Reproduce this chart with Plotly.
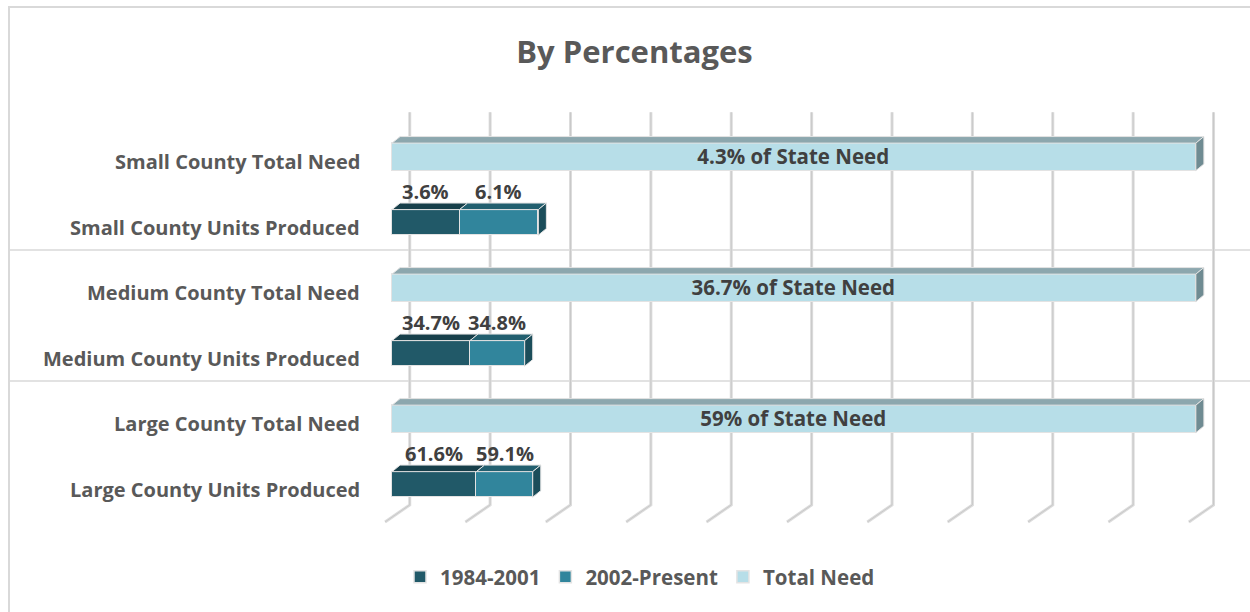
import plotly.graph_objects as go

# ---- data -------------------------------------------------------------
groups = ["Small County", "Medium County", "Large County"]
units_1984_2001 = [8.4, 9.7, 10.5]      # bar length, units produced 1984-2001
units_2002_now = [9.8, 6.8, 7.0]        # bar length, units produced 2002-present
total_need = [100, 100, 100]            # bar length, total need
labels_1984_2001 = ["3.6%", "34.7%", "61.6%"]
labels_2002_now = ["6.1%", "34.8%", "59.1%"]
labels_need = ["4.3% of State Need", "36.7% of State Need", "59% of State Need"]
grid_ticks = [0, 10, 20, 30, 40, 50, 60, 70, 80, 90, 100]

# ---- colours / fonts --------------------------------------------------
C_EARLY, C_EARLY_TOP = "#215968", "#173F4A"
C_LATE, C_LATE_TOP, C_LATE_SIDE = "#31859C", "#225F6F", "#1B4D5A"
C_NEED, C_NEED_TOP, C_NEED_SIDE = "#B7DEE8", "#8CA7AE", "#6F8B92"
EDGE = "#E3E3E3"
FONT = "Open Sans"
FS_LABEL = 20
FS_NEED = 20.5
FS_VALUE = 20
FS_LEGEND = 20.5
FS_TITLE = 31

# ---- geometry ---------------------------------------------------------
W, H = 1250, 612
XMIN, XMAX = -1.5, 104
YMIN, YMAX = -0.65, 5.7
ML, MR, MT, MB = 380, 22, 111, 85
PW = W - ML - MR
PH = H - MT - MB
DX, DY = 1.0, 0.1          # 3-D depth offset (data units)

n = len(groups)
need_rows = [2 * (n - 1 - i) + 1 for i in range(n)]
unit_rows = [2 * (n - 1 - i) for i in range(n)]


def px_to_paper_x(px):
    return (px - ML) / PW


def px_to_paper_y(py):
    return (H - MB - py) / PH


def data_to_paper_y(v):
    return (v - YMIN) / (YMAX - YMIN)


fig = go.Figure()

# front faces
fig.add_trace(go.Bar(
    name="1984-2001", orientation="h", y=unit_rows, x=units_1984_2001,
    width=0.39, marker=dict(color=C_EARLY, line=dict(color=EDGE, width=1.5)),
    hoverinfo="skip"))
fig.add_trace(go.Bar(
    name="2002-Present", orientation="h", y=unit_rows, x=units_2002_now,
    width=0.39, marker=dict(color=C_LATE, line=dict(color=EDGE, width=1.5)),
    hoverinfo="skip"))
fig.add_trace(go.Bar(
    name="Total Need", orientation="h", y=need_rows, x=total_need,
    width=0.42, marker=dict(color=C_NEED, line=dict(color=EDGE, width=1.5)),
    text=labels_need, textposition="inside", insidetextanchor="middle",
    textangle=0, constraintext="none",
    textfont=dict(family=FONT, size=FS_NEED, color="#404040", weight="bold"),
    hoverinfo="skip"))


def face(xs, ys, color):
    fig.add_trace(go.Scatter(
        x=xs + [xs[0]], y=ys + [ys[0]], mode="lines", fill="toself",
        fillcolor=color, line=dict(color=EDGE, width=1),
        showlegend=False, hoverinfo="skip"))


def block_faces(x0, x1, yc, half, top_color, side_color=None):
    yt = yc + half
    face([x0, x0 + DX, x1 + DX, x1], [yt, yt + DY, yt + DY, yt], top_color)
    if side_color:
        yb = yc - half
        face([x1, x1 + DX, x1 + DX, x1], [yt, yt + DY, yb + DY, yb], side_color)


for i in range(n):
    a = units_1984_2001[i]
    b = a + units_2002_now[i]
    block_faces(0, total_need[i], need_rows[i], 0.21, C_NEED_TOP, C_NEED_SIDE)
    block_faces(0, a, unit_rows[i], 0.195, C_EARLY_TOP)
    block_faces(a, b, unit_rows[i], 0.195, C_LATE_TOP, C_LATE_SIDE)

shapes = []
# back-wall grid lines with the floor returning toward the front
for t in grid_ticks:
    xb = t + 2.2
    xf = t - 0.87
    for col, wdt in (("#DCDCDC", 3), ("#C9C9C9", 1)):
        shapes.append(dict(type="path", xref="x", yref="y", layer="below",
                           path=f"M {xb},{YMAX - 0.02} L {xb},{-0.313} L {xf},{-0.573}",
                           line=dict(color=col, width=wdt)))

# group separators
for yv in (1.58, 3.58):
    shapes.append(dict(type="line", xref="paper", yref="paper",
                       x0=px_to_paper_x(9), x1=px_to_paper_x(1262),
                       y0=data_to_paper_y(yv), y1=data_to_paper_y(yv),
                       line=dict(color="#D9D9D9", width=1.5), layer="below"))

# chart frame
shapes.append(dict(type="rect", xref="paper", yref="paper",
                   x0=px_to_paper_x(9), x1=px_to_paper_x(1262),
                   y0=px_to_paper_y(630), y1=px_to_paper_y(7),
                   line=dict(color="#D9D9D9", width=2), fillcolor="rgba(0,0,0,0)"))

annotations = []
# value labels above produced segments
for i in range(n):
    a = units_1984_2001[i]
    b = a + units_2002_now[i]
    for xc, txt in ((a / 2, labels_1984_2001[i]), ((a + b) / 2, labels_2002_now[i])):
        annotations.append(dict(x=xc, y=unit_rows[i] + 0.47, xref="x", yref="y",
                                text=txt, showarrow=False,
                                font=dict(family=FONT, size=FS_VALUE, color="#404040", weight="bold")))
# category labels
for i, g in enumerate(groups):
    for row, suffix in ((need_rows[i], "Total Need"), (unit_rows[i], "Units Produced")):
        annotations.append(dict(x=px_to_paper_x(362), y=row, xref="paper", yref="y",
                                xanchor="right", yanchor="middle", yshift=-5,
                                text=f"{g} {suffix}", showarrow=False,
                                font=dict(family=FONT, size=FS_LABEL, color="#595959", weight="bold")))

fig.update_layout(
    width=W, height=H,
    margin=dict(l=ML, r=MR, t=MT, b=MB, autoexpand=False),
    paper_bgcolor="white", plot_bgcolor="white",
    barmode="stack", bargap=0,
    title=dict(text="<b>By Percentages</b>", xref="container", yref="container",
               x=634.5 / W, y=1 - 52 / H, xanchor="center", yanchor="middle",
               font=dict(family=FONT, size=FS_TITLE, color="#595959")),
    xaxis=dict(range=[XMIN, XMAX], visible=False, fixedrange=True),
    yaxis=dict(range=[YMIN, YMAX], visible=False, fixedrange=True),
    showlegend=True,
    legend=dict(orientation="h", x=px_to_paper_x(640), y=px_to_paper_y(577),
                xanchor="center", yanchor="middle", traceorder="normal",
                font=dict(family=FONT, size=FS_LEGEND, color="#595959", weight="bold")),
    shapes=shapes, annotations=annotations,
)

fig.write_html("out.html")
